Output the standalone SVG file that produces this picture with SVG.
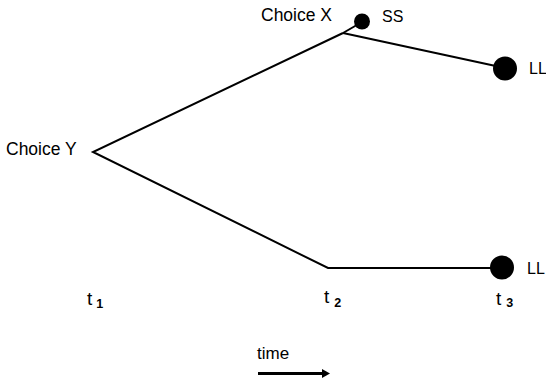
<svg xmlns="http://www.w3.org/2000/svg" width="546" height="381" viewBox="0 0 546 381">
<style>
text{font-family:"Liberation Sans",Arial,sans-serif;font-size:17.5px;fill:#000}
.sm{font-size:16px}
.t{font-size:19px}
.sub{font-size:12.5px;font-weight:bold}
.ln{stroke:#000;stroke-width:2;fill:none}
</style>
<defs>
<marker id="ah" viewBox="0 0 10 10" refX="0" refY="5" markerWidth="2.7" markerHeight="3" orient="auto" preserveAspectRatio="none"><path d="M0,0 L10,5 L0,10 z" fill="#000"/></marker>
</defs>
<rect width="546" height="381" fill="#fff"/>
<g id="connectors">
<polyline class="ln" points="343,33 93,152 328,268 502,268"/>
<line class="ln" x1="343" y1="33" x2="362" y2="22"/>
<line class="ln" x1="343" y1="33" x2="505" y2="68"/>
<line x1="258" y1="373.5" x2="322" y2="373.5" stroke="#000" stroke-width="3" marker-end="url(#ah)"/>
</g>
<g id="choiceY"><text x="6" y="155">Choice Y</text></g>
<g id="choiceX"><text x="261" y="21">Choice X</text></g>
<g id="ss"><circle cx="362" cy="21.5" r="8"/><text class="sm" x="382" y="22">SS</text></g>
<g id="ll1"><circle cx="505" cy="68.5" r="12"/><text class="sm" x="529" y="74">LL</text></g>
<g id="ll2"><circle cx="502" cy="267.5" r="12"/><text class="sm" x="527" y="274">LL</text></g>
<g id="t1"><text class="t" x="87" y="305">t<tspan class="sub" dx="4" dy="3">1</tspan></text></g>
<g id="t2"><text class="t" x="324" y="303">t<tspan class="sub" dx="5" dy="4">2</tspan></text></g>
<g id="t3"><text class="t" x="496" y="305">t<tspan class="sub" dx="5" dy="2">3</tspan></text></g>
<g id="time"><text x="257" y="359" style="font-size:17px">time</text></g>
</svg>
